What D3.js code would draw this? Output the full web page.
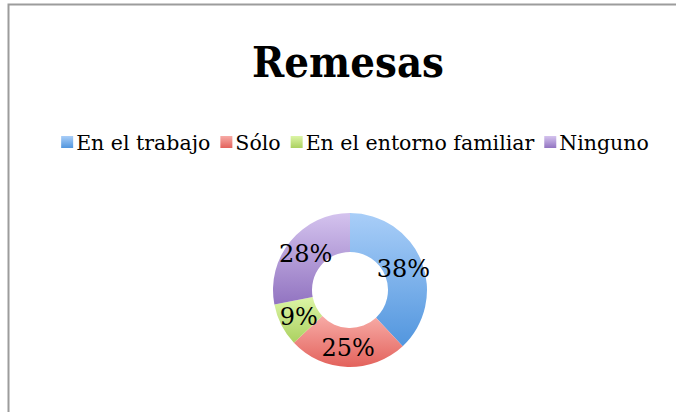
<!DOCTYPE html>
<html>
<head>
<meta charset="utf-8">
<script src="https://cdn.jsdelivr.net/npm/d3@7"></script>
<style>
  html, body { margin: 0; padding: 0; background: #fff; }
  svg { display: block; }
</style>
</head>
<body>
<div id="chart"></div>
<script>
var title = "Remesas";
var categories = ["En el trabajo", "Sólo", "En el entorno familiar", "Ninguno"];
var values = [38, 25, 9, 28];
var labels = ["38%", "25%", "9%", "28%"];
// light (top) / dark (bottom) of each slice gradient
var lightColors = ["#a9cef8", "#f7aba6", "#dcf5a6", "#d4c3ee"];
var darkColors = ["#5296de", "#e3625c", "#abd160", "#9274c1"];

var W = 676, H = 412;
var cx = 350, cy = 290, outerR = 77, innerR = 38;

var svg = d3.select("#chart").append("svg")
  .attr("width", W)
  .attr("height", H);

var defs = svg.append("defs");
categories.forEach(function(c, i) {
  var g = defs.append("linearGradient")
    .attr("id", "grad" + i)
    .attr("x1", 0).attr("y1", 0).attr("x2", 0).attr("y2", 1);
  g.append("stop").attr("offset", "0%").attr("stop-color", lightColors[i]);
  g.append("stop").attr("offset", "100%").attr("stop-color", darkColors[i]);
});

// frame
svg.append("rect")
  .attr("x", 8.5).attr("y", 4.5)
  .attr("width", 800).attr("height", 600)
  .attr("fill", "none")
  .attr("stroke", "#9c9c9c")
  .attr("stroke-width", 2);

// title
svg.append("text")
  .attr("x", 348).attr("y", 77)
  .attr("text-anchor", "middle")
  .attr("font-family", "DejaVu Serif")
  .attr("font-weight", "bold")
  .attr("font-size", 43)
  .attr("textLength", 192)
  .attr("lengthAdjust", "spacingAndGlyphs")
  .attr("fill", "#000")
  .text(title);

// legend
var legend = svg.append("g");
var lx = 0;
categories.forEach(function(c, i) {
  var item = legend.append("g").attr("transform", "translate(" + lx + ",0)");
  item.append("rect")
    .attr("x", 0).attr("y", -14)
    .attr("width", 12).attr("height", 12)
    .attr("fill", "url(#grad" + i + ")");
  var t = item.append("text")
    .attr("x", 15).attr("y", 0)
    .attr("font-family", "DejaVu Serif")
    .attr("font-size", 20.5)
    .attr("fill", "#000")
    .text(c);
  lx += 15 + t.node().getComputedTextLength() + 10;
});
var legW = lx - 10;
legend.attr("transform", "translate(" + (355 - legW / 2) + ",150)");

// donut
var pie = d3.pie().sort(null).value(function(d) { return d; });
var arc = d3.arc().innerRadius(innerR).outerRadius(outerR);
var arcs = pie(values);

var g = svg.append("g").attr("transform", "translate(" + cx + "," + cy + ")");

g.selectAll("path.slice")
  .data(arcs)
  .enter().append("path")
  .attr("class", "slice")
  .attr("d", arc)
  .attr("fill", function(d, i) { return "url(#grad" + i + ")"; });

g.selectAll("text.lbl")
  .data(arcs)
  .enter().append("text")
  .attr("class", "lbl")
  .attr("transform", function(d) { return "translate(" + arc.centroid(d) + ")"; })
  .attr("text-anchor", "middle")
  .attr("dy", "0.36em")
  .attr("font-family", "DejaVu Serif")
  .attr("font-size", 24)
  .attr("fill", "#000")
  .text(function(d, i) { return labels[i]; });
</script>
</body>
</html>
